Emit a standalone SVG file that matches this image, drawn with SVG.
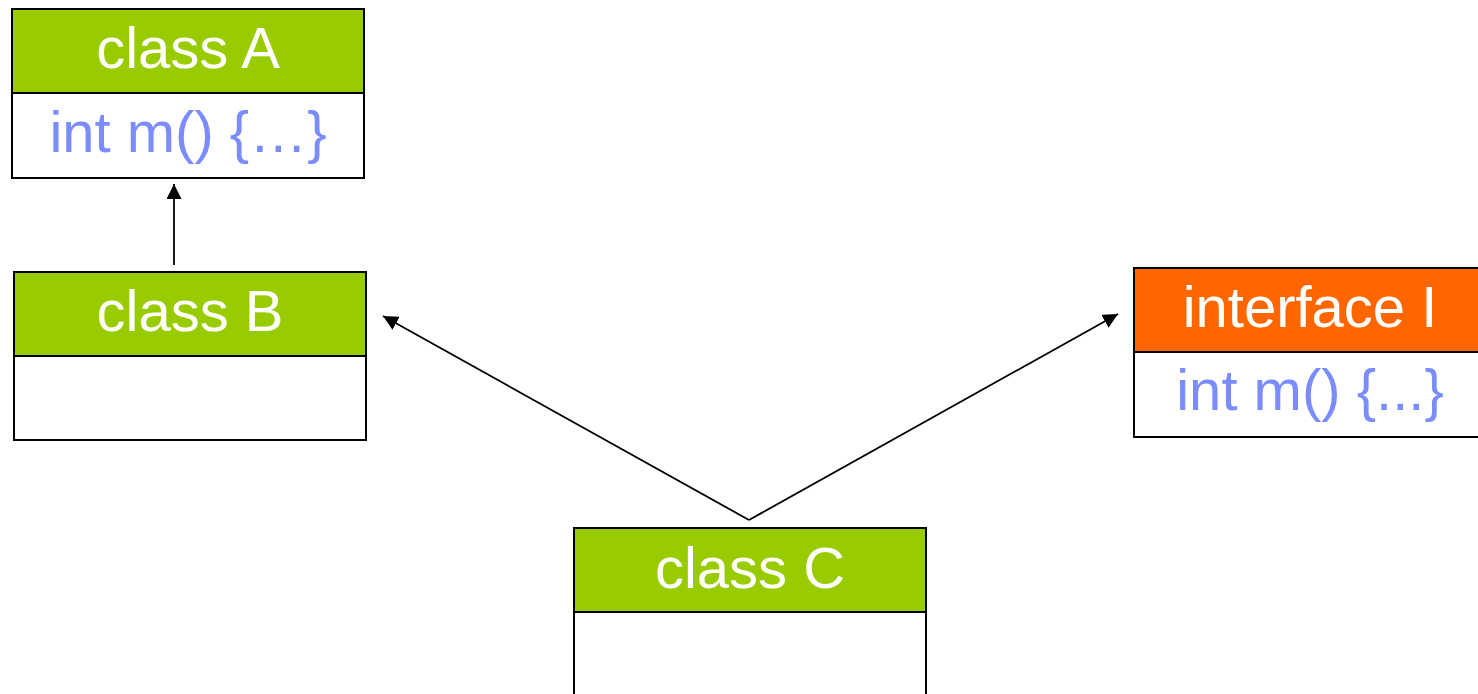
<svg xmlns="http://www.w3.org/2000/svg" width="1478" height="694" viewBox="0 0 1478 694">
  <style>
    .hdr-green { fill: #99CC00; stroke: #000; stroke-width: 2; }
    .hdr-orange { fill: #FF6600; stroke: #000; stroke-width: 2; }
    .body { fill: #FFFFFF; stroke: #000; stroke-width: 2; }
    .title { font-family: "Liberation Sans", Arial, sans-serif; font-size: 58px; fill: #FFFFFF; text-anchor: middle; }
    .member { font-family: "Liberation Sans", Arial, sans-serif; font-size: 58px; fill: #7B8CFF; text-anchor: middle; }
    .edge { stroke: #000; stroke-width: 1.8; fill: none; }
  </style>
  <defs>
    <marker id="arrow" viewBox="0 0 15 15" refX="15" refY="7.5" markerWidth="15" markerHeight="15" markerUnits="userSpaceOnUse" orient="auto">
      <path d="M0,0 L15,7.5 L0,15 Z" fill="#000"/>
    </marker>
  </defs>
  <rect width="1478" height="694" fill="#FFFFFF"/>

  <g id="classA">
    <rect class="hdr-green" x="12" y="9" width="352" height="84"/>
    <rect class="body" x="12" y="93" width="352" height="85"/>
    <text class="title" x="188" y="68">class A</text>
    <text class="member" x="188" y="152">int m() {…}</text>
  </g>

  <g id="classB">
    <rect class="hdr-green" x="14" y="272" width="352" height="84"/>
    <rect class="body" x="14" y="356" width="352" height="84"/>
    <text class="title" x="190" y="331">class B</text>
  </g>

  <g id="interfaceI">
    <rect class="hdr-orange" x="1134" y="268" width="352" height="84"/>
    <rect class="body" x="1134" y="352" width="352" height="85"/>
    <text class="title" x="1310" y="327">interface I</text>
    <text class="member" x="1310" y="410">int m() {...}</text>
  </g>

  <g id="classC">
    <rect class="hdr-green" x="574" y="528" width="352" height="84"/>
    <rect class="body" x="574" y="612" width="352" height="90"/>
    <text class="title" x="750" y="588">class C</text>
  </g>

  <g id="connectors">
    <line class="edge" x1="174" y1="265" x2="174" y2="184" marker-end="url(#arrow)"/>
    <line class="edge" x1="749" y1="520" x2="383" y2="316" marker-end="url(#arrow)"/>
    <line class="edge" x1="749" y1="520" x2="1118" y2="314" marker-end="url(#arrow)"/>
  </g>
</svg>
